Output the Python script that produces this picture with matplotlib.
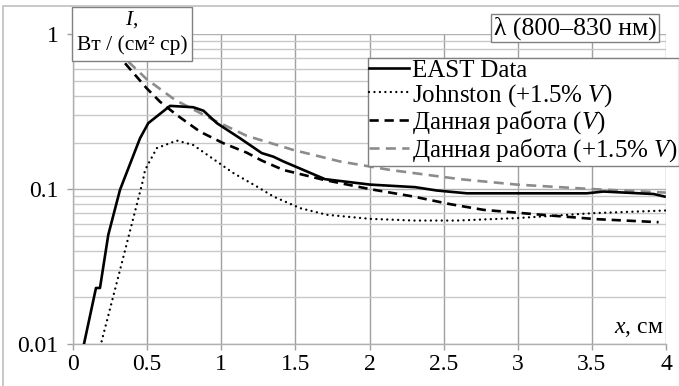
import matplotlib
matplotlib.use("Agg")
import matplotlib.pyplot as plt
from matplotlib.patches import Rectangle
from matplotlib.ticker import FixedLocator, FixedFormatter, LogLocator, NullFormatter

plt.rcParams['font.family'] = ['Liberation Serif', 'DejaVu Serif']
plt.rcParams['mathtext.fontset'] = 'custom'
plt.rcParams['mathtext.rm'] = 'Liberation Serif'
plt.rcParams['mathtext.it'] = 'Liberation Serif:italic'

# EAST Data
east_x = [0.074, 0.155, 0.182, 0.238, 0.317, 0.452, 0.508, 0.655, 0.811, 0.88, 0.97,
          1.127, 1.273, 1.352, 1.419, 1.70, 2.004, 2.308, 2.454, 2.657, 3.466, 3.578, 3.916, 3.99]
east_y = [0.010, 0.023, 0.023, 0.0507, 0.099, 0.213, 0.267, 0.345, 0.338, 0.321, 0.267,
          0.213, 0.171, 0.162, 0.151, 0.116, 0.107, 0.103, 0.098, 0.094, 0.094, 0.0965, 0.093, 0.0896]

# Johnston (+1.5% V)
john_x = [0.193, 0.317, 0.47, 0.486, 0.565, 0.70, 0.81, 0.924, 1.082, 1.24,
          1.352, 1.532, 1.712, 2.004, 2.30, 2.589, 2.994, 3.51, 3.995]
john_y = [0.0104, 0.030, 0.112, 0.133, 0.184, 0.206, 0.193, 0.162, 0.127, 0.104,
          0.0896, 0.0754, 0.0683, 0.0643, 0.0627, 0.0627, 0.065, 0.070, 0.0728]

# Данная работа (V)
work_x = [0.351, 0.497, 0.587, 0.70, 0.857, 1.014, 1.172, 1.273, 1.419, 1.689,
          2.004, 2.296, 2.544, 2.769, 3.219, 3.533, 3.95]
work_y = [0.65, 0.448, 0.367, 0.301, 0.235, 0.198, 0.172, 0.153, 0.133, 0.115,
          0.100, 0.0896, 0.080, 0.0735, 0.0676, 0.064, 0.0612]

# Данная работа (+1.5% V)
work15_x = [0.373, 0.497, 0.688, 0.947, 1.172, 1.487, 1.80, 2.14, 2.61, 2.994, 3.51, 4.0]
work15_y = [0.666, 0.513, 0.377, 0.28, 0.221, 0.179, 0.151, 0.133, 0.116, 0.107, 0.100, 0.095]

x_ticks = [0, 0.5, 1, 1.5, 2, 2.5, 3, 3.5, 4]
x_labels = ['0', '0.5', '1', '1.5', '2', '2.5', '3', '3.5', '4']
y_ticks = [0.01, 0.1, 1]
y_labels = ['0.01', '0.1', '1']

W, H = 679, 386
fig = plt.figure(figsize=(W / 100, H / 100), dpi=100)
ax = fig.add_axes([73 / W, 1 - 344 / H, (666 - 73) / W, (344 - 34.3) / H])

ax.plot(east_x, east_y, color='black', lw=1.9, label='EAST Data', zorder=4)
ax.plot(john_x, john_y, color='black', lw=1.7, ls=(0, (0.01, 2.3)),
        dash_capstyle='round', label='Johnston (+1.5% $V$)', zorder=4)
ax.plot(work_x, work_y, color='black', lw=1.9, ls=(0, (3.5, 2.2)),
        label='Данная работа ($V$)', zorder=4)
ax.plot(work15_x, work15_y, color='#8c8c8c', lw=1.9, ls=(0, (3.8, 2.4)),
        label='Данная работа (+1.5% $V$)', zorder=3)

ax.set_yscale('log')
ax.set_xlim(0, 4)
ax.set_ylim(0.01, 1)
ax.xaxis.set_major_locator(FixedLocator(x_ticks))
ax.xaxis.set_major_formatter(FixedFormatter(x_labels))
ax.yaxis.set_major_locator(FixedLocator(y_ticks))
ax.yaxis.set_major_formatter(FixedFormatter(y_labels))
ax.yaxis.set_minor_locator(LogLocator(base=10, subs=range(2, 10)))
ax.yaxis.set_minor_formatter(NullFormatter())

ax.grid(True, which='major', axis='x', color='#a0a0a0', lw=1.0)
ax.grid(True, which='major', axis='y', color='#b0b0b0', lw=1.0)
ax.grid(True, which='minor', axis='y', color='#c8c8c8', lw=1.0)
ax.set_axisbelow(True)

for s in ['top', 'right']:
    ax.spines[s].set_visible(False)
for s in ['left', 'bottom']:
    ax.spines[s].set_color('#b0b0b0')
    ax.spines[s].set_linewidth(1.0)

ax.tick_params(axis='both', which='major', labelsize=17, color='#a0a0a0',
               length=4.5, width=1.0, pad=6)
ax.tick_params(axis='y', which='minor', length=0)
ax.tick_params(axis='x', pad=3)

ax.text(0.995, 0.015, '$x$, см', transform=ax.transAxes, ha='right', va='bottom', fontsize=17)

leg = ax.legend(loc='upper left', bbox_to_anchor=(368 / W, 1 - 58 / H),
                bbox_transform=fig.transFigure, prop={'size': 18}, frameon=True,
                fancybox=False, framealpha=1, edgecolor='#808080', borderpad=0.05,
                labelspacing=0.0, handlelength=1.6, handletextpad=0.1,
                borderaxespad=0)
leg.get_frame().set_linewidth(1.0)
leg.set_zorder(10)

# y-axis label box
fig.add_artist(Rectangle((72 / W, 1 - 61 / H), 120 / W, 54 / H, transform=fig.transFigure,
                         facecolor='white', edgecolor='#808080', lw=1.0, zorder=5))
fig.text(132 / W, 1 - 20 / H, '$I$,', ha='center', va='center', fontsize=15.5, zorder=6)
fig.text(132 / W, 1 - 45 / H, 'Вт / (см² ср)', ha='center', va='center', fontsize=15.5, zorder=6)

# title box
fig.text(575 / W, 1 - 28 / H, 'λ (800–830 нм)', ha='center', va='center', fontsize=18.5,
         zorder=6, bbox=dict(boxstyle='square,pad=0.1', facecolor='white',
                             edgecolor='#808080', lw=1.0))

# chart frame
fig.add_artist(Rectangle((3 / W, -0.2), 1.2, 1.2 - 6 / H, transform=fig.transFigure,
                         fill=False, edgecolor='#bfbfbf', lw=1.2, zorder=7))

fig.savefig('out.png', dpi=100)
